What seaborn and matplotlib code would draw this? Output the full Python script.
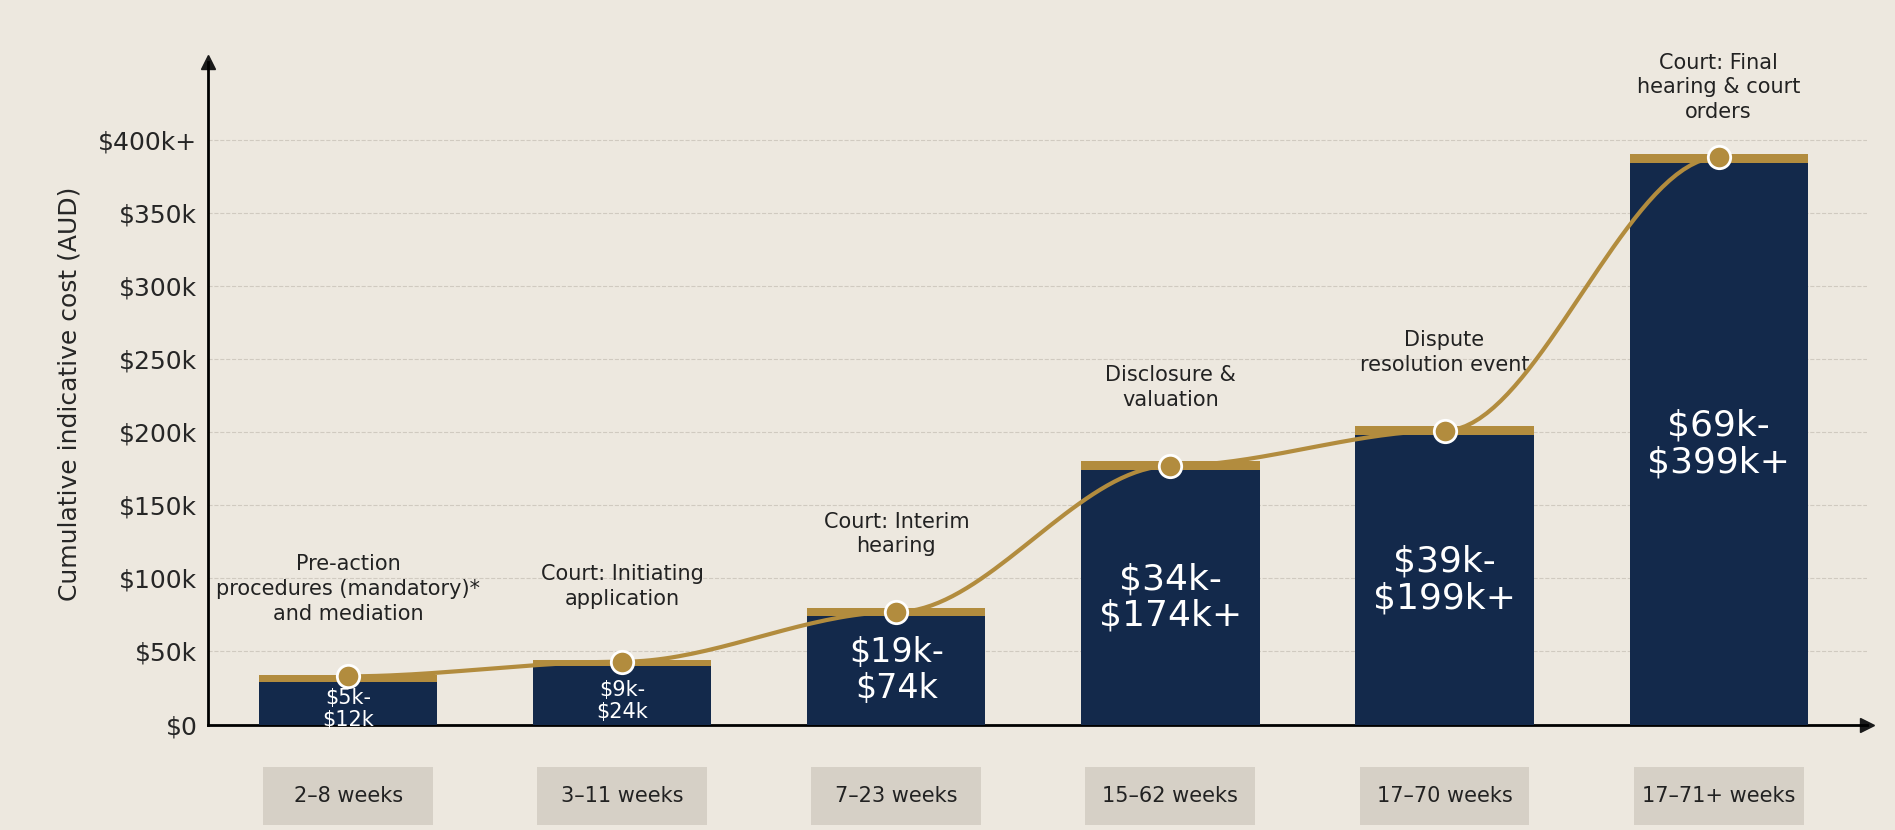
import numpy as np
import pandas as pd
import matplotlib.pyplot as plt
import seaborn as sns
from matplotlib.patches import Rectangle

stages = ["Pre-action\nprocedures (mandatory)*\nand mediation", "Court: Initiating\napplication",
          "Court: Interim\nhearing", "Disclosure &\nvaluation", "Dispute\nresolution event",
          "Court: Final\nhearing & court\norders"]
weeks = ["2–8 weeks", "3–11 weeks", "7–23 weeks", "15–62 weeks", "17–70 weeks", "17–71+ weeks"]
ranges = ["$5k-\n$12k", "$9k-\n$24k", "$19k-\n$74k", "$34k-\n$174k+", "$39k-\n$199k+", "$69k-\n$399k+"]
bar_top = [34, 44, 80, 180, 204, 390]
cap = [5, 4, 6, 6, 6, 6]
dots = [33, 43, 77, 177, 201, 388]

bg = "#ede8df"
navy = "#13294b"
gold = "#b28c3e"

sns.set_theme(style="white")
plt.rcParams['font.family'] = ['DejaVu Sans']
fig, ax = plt.subplots(figsize=(18.95, 8.3), dpi=100)
fig.patch.set_facecolor(bg)
ax.set_facecolor(bg)

df = pd.DataFrame({"stage": range(6), "top": bar_top, "dark": np.array(bar_top) - np.array(cap)})
sns.barplot(data=df, x="stage", y="top", color=gold, width=0.65, ax=ax, saturation=1,
            zorder=2, edgecolor="none", linewidth=0)
sns.barplot(data=df, x="stage", y="dark", color=navy, width=0.65, ax=ax, saturation=1,
            zorder=3, edgecolor="none", linewidth=0)

# smooth S-shaped connector between stage points
xs, ys = [], []
for i in range(5):
    t = np.linspace(0, 1, 40)
    s = t * t * (3 - 2 * t)
    xs.extend(i + t)
    ys.extend(dots[i] + (dots[i + 1] - dots[i]) * s)
ax.plot(xs, ys, color=gold, lw=3, zorder=4)
ax.scatter(range(6), dots, s=260, color=gold, edgecolor="white", linewidth=2, zorder=5)

sizes = [15, 15, 24, 26, 26, 26]
for i in range(6):
    d = bar_top[i] - cap[i]
    ax.text(i, d / 2 if i > 1 else d / 2 - 4, ranges[i], ha="center", va="center", color="white",
            fontsize=sizes[i], zorder=6, linespacing=1.1)
    ax.text(i, bar_top[i] + (35 if i < 5 else 22), stages[i], ha="center", va="bottom",
            fontsize=15, color="#222222", linespacing=1.3)
    ax.add_patch(Rectangle((i - 0.31, -69), 0.62, 40, fc="#d6d0c6", ec="none", clip_on=False))
    ax.text(i, -49, weeks[i], ha="center", va="center", fontsize=15, color="#222222")

ax.set_ylim(0, 453)
ax.set_xlim(-0.51, 5.54)
ax.set_yticks(range(0, 401, 50))
ax.set_yticklabels(["$0"] + [f"${v}k" for v in range(50, 400, 50)] + ["$400k+"], fontsize=18)
ax.yaxis.grid(True, ls="--", color="#d0cac0", lw=0.8, zorder=0)
ax.set_axisbelow(True)
ax.set_xticks([])
ax.set_xlabel("")
ax.set_ylabel("Cumulative indicative cost (AUD)", fontsize=18, labelpad=12)
for sp in ["top", "right"]:
    ax.spines[sp].set_visible(False)
for sp in ["left", "bottom"]:
    ax.spines[sp].set_color("black")
    ax.spines[sp].set_linewidth(2)
ax.plot(-0.51, 453, "^k", ms=10, clip_on=False)
ax.plot(5.54, 0, ">k", ms=10, clip_on=False)
ax.tick_params(axis="y", length=0, pad=8)

plt.subplots_adjust(left=0.11, right=0.985, top=0.925, bottom=0.127)
plt.savefig("out.png", dpi=100, facecolor=bg)
